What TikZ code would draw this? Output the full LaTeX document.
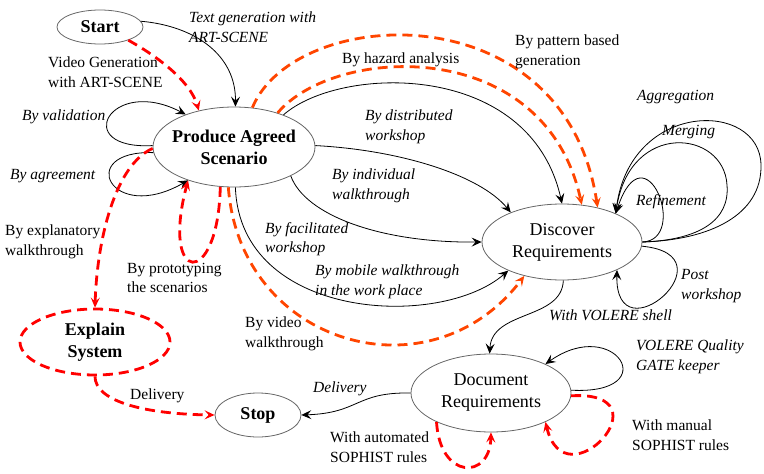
\documentclass[tikz,border=0pt]{standalone}
\usepackage{fontspec}
\setmainfont{Liberation Serif}
\usepackage{tikz}
\usetikzlibrary{arrows.meta,shapes.geometric}

\definecolor{dashred}{RGB}{255,0,0}
\definecolor{dashorange}{RGB}{255,69,0}

\begin{document}
\begin{tikzpicture}[x=1pt,y=-1pt,>={Stealth[length=10pt,width=9pt,inset=4pt]},
  state/.style={ellipse,draw=black!60,line width=0.8pt,inner sep=0pt,align=center,
    font=\fontsize{18}{22}\selectfont},
  bstate/.style={state,font=\fontsize{18}{22}\selectfont\bfseries},
  lbl/.style={anchor=west,inner sep=0pt,align=left,font=\fontsize{15.5}{19.5}\selectfont},
  ilbl/.style={lbl,font=\fontsize{15.5}{19.5}\selectfont\itshape},
  plain/.style={->,black,line width=0.8pt},
  redpath/.style={->,dashred,line width=2.8pt,dash pattern=on 10pt off 6pt},
  orangepath/.style={redpath,dashorange}]

\useasboundingbox (0,0) rectangle (764,474);

%---------------- States ----------------
\node[bstate,minimum width=86pt,minimum height=34pt] (start) at (100,27) {Start};
\node[bstate,minimum width=162pt,minimum height=80pt,inner xsep=-6pt] (prod) at (234,147) {Produce Agreed\\Scenario};
\node[state,minimum width=160pt,minimum height=76pt] (disc) at (562,242) {Discover\\Requirements};
\node[bstate,minimum width=150pt,minimum height=66pt,draw=dashred,line width=2.8pt,
  dash pattern=on 10pt off 6pt] (explain) at (95,342) {Explain\\System};
\node[bstate,minimum width=86pt,minimum height=44pt] (stop) at (258,415) {Stop};
\node[state,minimum width=160pt,minimum height=78pt] (doc) at (491,393) {Document\\Requirements};

%---------------- Start to scenario ----------------
\draw[plain] (start.8) .. controls (195,26) and (236,55) .. (prod.88);
\draw[redpath] (start.-25) .. controls (155,55) and (190,80) .. (prod.134);

\node[ilbl] (ltextgen) at (189,27) {Text generation with\\ART-SCENE};
\node[lbl] (lvideogen) at (48,72) {Video Generation\\with ART-SCENE};

% Loops on the scenario
\draw[plain] (prod.179) .. controls (70,150) and (110,75) .. (prod.146);
\draw[plain] (prod.184) .. controls (75,150) and (110,225) .. (prod.216);
\draw[redpath] (prod.251) .. controls (218,290) and (160,285) .. (prod.216);

\node[ilbl] (lvalid) at (22,117) {By validation};
\node[ilbl] (lagree) at (10,176) {By agreement};
\node[lbl] (lproto) at (127,278) {By prototyping\\the scenarios};

% Scenario to explanation
\draw[redpath] (prod.181) .. controls (115,165) and (97,240) .. (explain.90);
\node[lbl] (lexplan) at (5,242) {By explanatory\\walkthrough};

%---------------- Scenario to discovery ----------------
\draw[orangepath] (prod.262) .. controls (240,345) and (430,400) .. (disc.222);
\draw[plain] (prod.272) .. controls (240,320) and (440,330) .. (disc.208);
\draw[plain] (prod.333) .. controls (305,215) and (380,243) .. (disc.180);
\draw[plain] (prod.1) .. controls (400,150) and (480,175) .. (disc.150);
\draw[plain] (prod.33) .. controls (340,65) and (530,60) .. (disc.90);
\draw[orangepath] (prod.38) .. controls (335,45) and (545,35) .. (disc.62);
\draw[orangepath] (prod.65) .. controls (295,5) and (565,-10) .. (disc.44);

\node[lbl] (lvideowalk) at (245,334) {By video\\walkthrough};
\node[ilbl] (lmobile) at (315,282) {By mobile walkthrough\\in the work place};
\node[ilbl] (lfacil) at (265,239) {By facilitated\\workshop};
\node[ilbl] (lindiv) at (332,186) {By individual\\walkthrough};
\node[ilbl] (ldistr) at (365,127) {By distributed\\workshop};
\node[lbl] (lhazard) at (342,60) {By hazard analysis};
\node[lbl] (lpattern) at (515,52) {By pattern based\\generation};

% Loops on discovery
\draw[plain] (disc.0) .. controls (710,240) and (762,215) .. (761,165)
  .. controls (760,100) and (630,100) .. (disc.28);
\draw[plain] (disc.0) .. controls (700,240) and (730,220) .. (727,185)
  .. controls (724,130) and (630,120) .. (disc.28);
\draw[plain] (disc.0) .. controls (690,240) and (645,125) .. (disc.28);
\draw[plain] (disc.-3) .. controls (735,255) and (615,360) .. (disc.333);

\node[ilbl] (laggr) at (637,97) {Aggregation};
\node[ilbl] (lmerge) at (662,132) {Merging};
\node[ilbl] (lrefine) at (636,202) {Refinement};
\node[ilbl] (lpost) at (681,286) {Post\\workshop};

%---------------- Discovery to document ----------------
\draw[plain] (disc.272) .. controls (562,320) and (492,310) .. (doc.92);
\node[ilbl] (lshell) at (549,315) {With VOLERE shell};

% Loops on the document
\draw[plain] (doc.2) .. controls (665,395) and (615,315) .. (doc.28);
\draw[redpath] (doc.208) .. controls (440,480) and (490,480) .. (doc.270);
\draw[redpath] (doc.-2) .. controls (670,390) and (565,505) .. (doc.332);

\node[ilbl] (lgate) at (636,357) {VOLERE Quality\\GATE keeper};
\node[lbl] (lauto) at (330,447) {With automated\\SOPHIST rules};
\node[lbl] (lmanual) at (632,435) {With manual\\SOPHIST rules};

%---------------- Delivery ----------------
\draw[plain] (doc.180) .. controls (355,392) and (360,413) .. (stop.0);
\draw[redpath] (explain.270) .. controls (95,400) and (140,414) .. (stop.180);

\node[ilbl] (ldeliv) at (313,389) {Delivery};
\node[lbl] (ldelivred) at (130,396) {Delivery};

\end{tikzpicture}
\end{document}
